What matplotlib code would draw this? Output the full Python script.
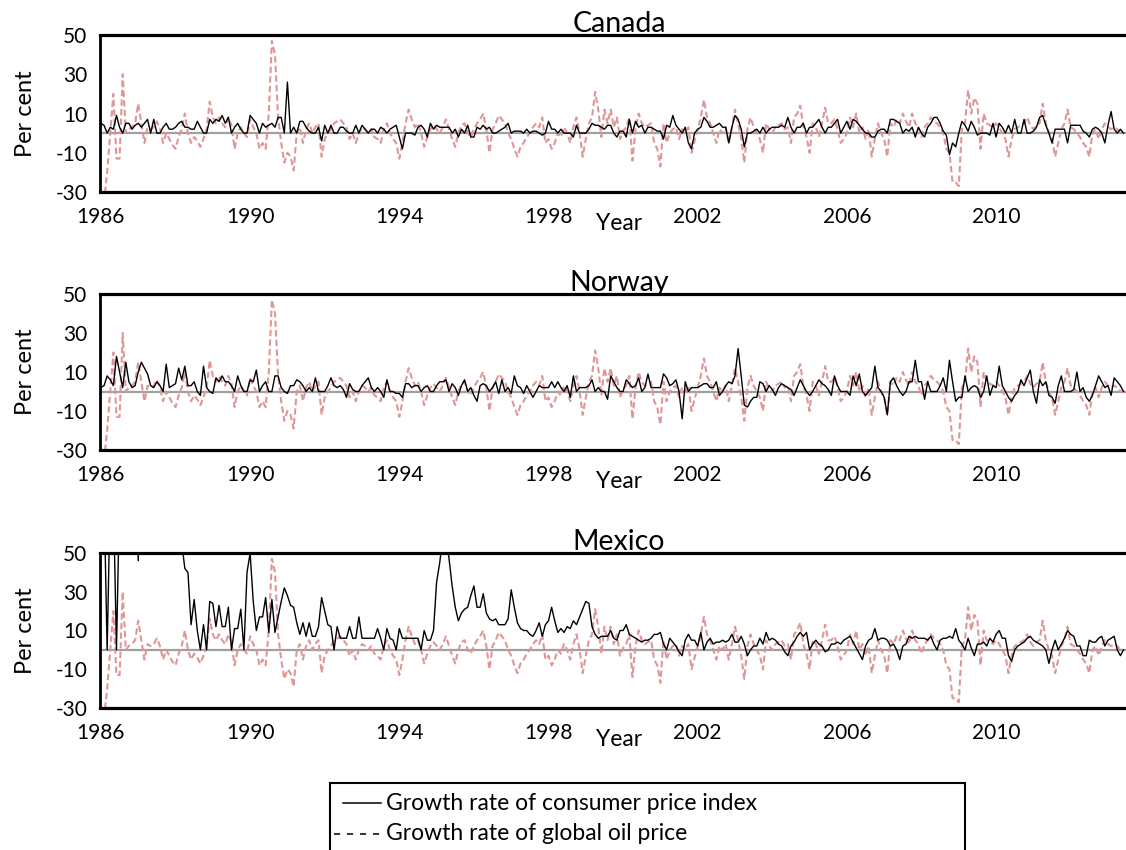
import numpy as np
import matplotlib.pyplot as plt
from matplotlib.lines import Line2D
from matplotlib.patches import Rectangle

plt.rcParams['font.family'] = ['Lato', 'DejaVu Sans']
plt.rcParams['axes.unicode_minus'] = False

# monthly growth rates, Jan 1986 - Jun 2013 (per cent)
oil_growth = [
    -45, -35, -20, 0, 20, -13, -13, 30, 0, 2, 3, 5,
    15, 5, -5, 3, 2, 3, 6, 2, -5, 0, -3, -6,
    -8, -2, 2, 10, 0, -5, -2, -4, -7, -3, 2, 16,
    8, 5, 8, 5, 3, 8, 4, -8, 0, 3, 0, -2,
    7, 3, 0, -8, -5, -8, 10, 47, 40, 8, -5, -15,
    -10, -12, -19, 0, 3, -5, 2, 5, 0, 3, 5, -12,
    -3, 0, 2, 5, 6, 7, 5, 3, -3, 0, -5, 0,
    3, 2, 0, 2, -2, -3, -5, 2, 5, 0, -3, -5,
    -13, -5, 5, 12, 7, 3, 5, 0, -7, -2, 2, 4,
    2, 0, 3, 7, 2, -3, -7, 0, 4, 5, 0, -2,
    2, 5, 7, 10, 2, -10, 2, 5, 9, 7, 5, 0,
    -3, -8, -12, -7, -5, -2, 0, 3, 5, 3, 8, -5,
    -3, -8, -5, 0, -2, 3, 0, -5, 3, 8, 0, -12,
    -3, 5, 8, 21, 12, -2, 12, 5, 12, 3, 8, -3,
    1, 3, 8, -14, 2, 10, 5, 3, 4, 5, -5, -8,
    -17, 5, -5, 0, 2, 3, -3, 2, 0, 3, -10, -4,
    2, 8, 17, 8, 5, 0, -5, 2, 0, 3, -5, 3,
    12, 5, -3, -15, 2, 8, 3, 0, -3, -10, 5, 2,
    0, 3, 4, 5, 2, 3, -5, 8, 10, 14, 3, -2,
    -10, 5, 3, -2, 5, 13, 5, 5, 7, 2, -5, -3,
    0, 8, 3, 10, 0, 3, -3, 2, -12, -3, 5, 0,
    -3, -12, 5, 3, 7, 5, 10, 6, 3, 10, 5, 3,
    -2, 3, 5, 8, 6, 5, 3, 0, -8, -10, -25, -25,
    -27, 2, 5, 22, 10, 18, 15, -8, 10, 5, 4, 3,
    5, 3, 0, -3, -12, -3, 2, 3, 4, 5, 8, 4,
    2, 4, 5, 15, 5, 0, -3, -12, -5, 2, 5, 12,
    3, 2, 0, -2, -5, -7, -12, 0, 2, -3, 2, 5,
    3, 2, 3, 2, 0, 0,
]

cpi_canada = [
    5, 4, 0, 3, 2, 9, 3, 0, 5, 5, 2, 4,
    5, 3, 5, 7, 0, 7, 0, 0, 3, 5, 2, 2,
    3, 5, 6, 3, 3, 2, 2, 6, 3, 0, 0, 7,
    5, 7, 6, 9, 5, 8, 0, 3, 5, 2, 0, 0,
    9, 7, 5, 0, 5, 3, 4, 5, 3, 8, 8, 0,
    26, 0, 3, 0, 6, 6, 3, 1, 0, 0, 3, -4,
    4, 0, 4, 0, 0, 3, 3, 1, 0, 0, 4, 0,
    4, 2, 0, 2, 2, 0, 3, 2, 0, 2, 3, 4,
    -2, -8, 0, 0, 0, -1, 3, 4, 2, -2, 5, 2,
    4, 3, 3, 3, 3, 0, 2, -2, 2, 0, 4, -2,
    -2, 3, 2, 4, 2, 3, 0, 0, 1, 2, 3, 5,
    0, 1, 1, 1, 0, 2, 0, 1, 1, 0, -1, 0,
    6, 2, 2, 0, 2, 0, 0, 0, -2, 4, 0, 0,
    0, 2, 5, 4, 4, 3, 2, 4, 4, 0, -2, 1,
    1, -2, 7, 0, 6, 3, 4, 0, 3, 3, 2, 1,
    1, -3, 4, 3, 9, 4, 2, 0, 3, -5, -8, 0,
    2, 3, 8, 6, 3, 3, 4, 5, 3, 3, -5, 3,
    9, 7, 2, -7, 0, 0, 1, 2, 0, 3, 0, 2,
    3, 3, 3, 4, 3, 8, 3, 0, 3, 3, 5, 0,
    3, 3, 5, 7, 3, 0, 3, 3, 5, 7, 0, 3,
    6, 2, 7, 6, 4, 2, 0, 0, -2, -2, 1, 2,
    2, 0, 7, 7, 6, 5, 0, 2, 1, 3, -2, 3,
    0, -2, 3, 5, 8, 8, 5, 1, -1, -11, -5, -7,
    0, 6, 4, 1, 6, 3, -1, 0, 0, 0, -1, 5,
    -2, 5, 3, 0, 4, 0, 7, 0, 0, 7, 0, 0,
    1, 3, 8, 9, 4, 0, -5, 2, 2, 2, 2, -5,
    4, 4, 4, 4, 1, 0, -2, 2, 3, 2, 0, -5,
    4, 11, 2, 0, 2, 0,
]

cpi_norway = [
    2, 3, 8, 6, 3, 18, 10, 2, 15, 5, 2, 3,
    10, 15, 12, 9, 3, 2, 5, 3, 0, 14, 2, 3,
    4, 12, 6, 13, 3, 3, 5, 0, -2, 13, 2, 0,
    -1, 7, 5, 8, 5, 5, 3, 0, 8, 3, 0, 0,
    6, 5, 11, 0, 3, 5, 0, 0, 8, 8, 2, 0,
    -1, 3, 3, 6, 5, 3, 0, 2, 0, 7, 0, 0,
    0, 3, 7, 3, 2, 3, 1, -3, 4, 1, 0, 0,
    3, 5, 7, 2, 0, 2, 0, -3, 6, 0, 0, -1,
    -1, -3, 4, 4, 2, 3, 3, 0, 2, 3, 0, 0,
    3, 5, 5, 6, 0, 4, 2, -2, 3, 6, 0, 2,
    -2, -5, 3, 4, 3, 0, 2, 5, -1, 6, 0, 2,
    -1, 8, 3, 2, -1, 3, 0, -3, 0, 3, 2, 2,
    2, 5, 2, 5, 2, 0, 3, -3, 8, 0, 2, 2,
    2, 3, 6, 0, 2, 0, 0, -4, 8, 5, 2, 0,
    0, 6, 4, 2, 3, 7, 0, 2, 9, 2, 2, 2,
    2, 9, 7, 3, 4, 6, 0, -14, 5, 0, 2, 2,
    2, 3, 4, 4, 2, 2, 5, -2, 0, 3, 5, 4,
    8, 22, 8, -7, -8, -5, -3, -3, 5, 4, 0, 3,
    1, -2, 2, 4, 3, 2, 1, -2, 2, 6, 3, 0,
    -2, 0, 3, 6, 4, 3, 1, -2, 8, 3, 0, 0,
    0, -2, 8, 3, 9, 0, -2, 0, 2, 13, 2, 0,
    -3, -12, 5, 7, 3, 0, -2, 0, 5, 5, 16, 5,
    5, -4, 5, 0, 0, 0, 3, 7, 0, 16, 5, -5,
    -3, -3, 8, 0, 2, 3, 2, -3, 0, 8, -2, 3,
    2, 13, 3, 0, -3, -5, -2, 0, 6, 3, 7, 11,
    0, -6, 6, 3, 5, -2, -3, -6, 3, 8, 0, 0,
    0, 1, 10, 0, 2, -3, -5, -2, 3, 8, 5, 2,
    3, -2, 7, 5, 3, 0,
]

cpi_mexico = [
    80, 80, 0, 80, 80, 0, 80, 85, 90, 95, 100, 105,
    46, 110, 120, 130, 120, 110, 120, 130, 120, 110, 130, 140,
    120, 80, 55, 42, 40, 13, 26, 10, 0, 13, 0, 25,
    24, 12, 23, 12, 12, 22, 0, 11, 11, 21, 0, 40,
    50, 25, 10, 17, 17, 27, 9, 26, 9, 17, 25, 32,
    28, 23, 22, 14, 8, 14, 7, 14, 7, 7, 12, 27,
    20, 13, 12, 0, 12, 6, 6, 6, 12, 6, 6, 17,
    6, 6, 6, 6, 6, 11, 6, 0, 11, 6, 5, 0,
    11, 6, 6, 6, 6, 6, 6, 0, 10, 5, 5, 10,
    35, 45, 58, 62, 47, 33, 22, 15, 19, 21, 22, 28,
    33, 22, 22, 29, 19, 16, 15, 16, 13, 13, 13, 16,
    31, 22, 14, 11, 10, 10, 8, 7, 10, 14, 7, 13,
    15, 22, 15, 9, 11, 9, 12, 11, 15, 13, 17, 21,
    25, 24, 12, 8, 6, 7, 7, 7, 10, 6, 5, 10,
    10, 13, 8, 7, 6, 5, 4, 5, 5, 6, 8, 8,
    9, 3, 0, 6, 4, 2, -1, -3, 5, 8, 5, 5,
    2, 9, 0, 4, 6, 3, 4, 4, 5, 4, 5, 8,
    4, 4, 7, 3, -3, 0, 2, 2, 6, 3, 9, 5,
    6, 5, 3, 2, -1, -3, 2, 4, 7, 9, 7, 9,
    0, 3, 5, 3, 2, -1, 0, 3, 3, 4, 3, 5,
    6, 7, 4, 1, -2, -5, 2, 5, 6, 11, 5, 6,
    6, 5, 2, 3, 0, -5, 2, 3, 7, 6, 7, 6,
    6, 6, 5, 7, 3, 0, 5, 6, 6, 7, 6, 11,
    5, 3, 0, 6, 1, -3, 3, 3, 4, 2, 6, 4,
    8, 10, 6, 6, -3, -6, 0, 2, 3, 4, 6, 7,
    5, 4, 3, 2, 0, -7, 0, 5, 0, 3, 6, 10,
    8, 7, 2, 2, -3, -3, 5, 4, 4, 6, 7, 2,
    5, 6, 7, 0, -3, 0,
]

countries = ['Canada', 'Norway', 'Mexico']
year_labels = ['1986', '1990', '1994', '1998', '2002', '2006', '2010']
y_ticks = [-30, -10, 10, 30, 50]

W, H = 1126, 850
fig = plt.figure(figsize=(W / 100, H / 100), dpi=100)

def fx(px):
    return px / W

def fy(py):
    return 1 - py / H

months = np.arange(len(oil_growth))
series = [cpi_canada, cpi_norway, cpi_mexico]
panels = [(35, 192), (294, 450), (553, 708)]

for name, cpi, (top, bot) in zip(countries, series, panels):
    ax = fig.add_axes([fx(100), fy(bot), 1 - fx(100), (bot - top) / H])
    ax.axhline(0, color='#a0a0a0', lw=1.6, zorder=1)
    ax.plot(months, oil_growth, color='#df9696', lw=1.5,
            ls=(0, (3, 1.6)), zorder=2)
    ax.plot(months, cpi, color='black', lw=1.0, zorder=3)
    ax.set_xlim(-0.3, 329.8)
    ax.set_ylim(-30, 50)
    ax.set_yticks(y_ticks)
    ax.set_xticks(np.arange(len(year_labels)) * 48)
    ax.set_xticklabels(year_labels)
    ax.tick_params(length=0, labelsize=15)
    ax.tick_params(axis='x', pad=11)
    ax.tick_params(axis='y', pad=9)
    for side in ['top', 'bottom']:
        ax.spines[side].set_linewidth(2.3)
    ax.spines['left'].set_linewidth(2.0)
    ax.spines['right'].set_visible(False)

    fig.text(fx(619), fy(top - 3), name, ha='center', va='baseline', fontsize=20.5)
    fig.text(fx(25), fy((top + bot) / 2), 'Per cent', rotation=90,
             ha='center', va='center', fontsize=17)
    fig.text(fx(619), fy(bot + 38), 'Year', ha='center', va='baseline', fontsize=16.5)

# legend box at the bottom
fig.add_artist(Rectangle((fx(330), fy(856)), fx(965) - fx(330), fy(783) - fy(856),
                         fill=False, edgecolor='black', lw=1.5,
                         transform=fig.transFigure))
fig.add_artist(Line2D([fx(343), fx(381)], [fy(803), fy(803)], color='black', lw=1.1,
                      transform=fig.transFigure))
fig.add_artist(Line2D([fx(334), fx(381)], [fy(834), fy(834)], color='black', lw=1.1,
                      ls=(0, (4, 4.5)), transform=fig.transFigure))
fig.text(fx(386), fy(803), 'Growth rate of consumer price index',
         ha='left', va='center', fontsize=16.5)
fig.text(fx(386), fy(834), 'Growth rate of global oil price',
         ha='left', va='center', fontsize=16.5)

fig.savefig('out.png', dpi=100)
